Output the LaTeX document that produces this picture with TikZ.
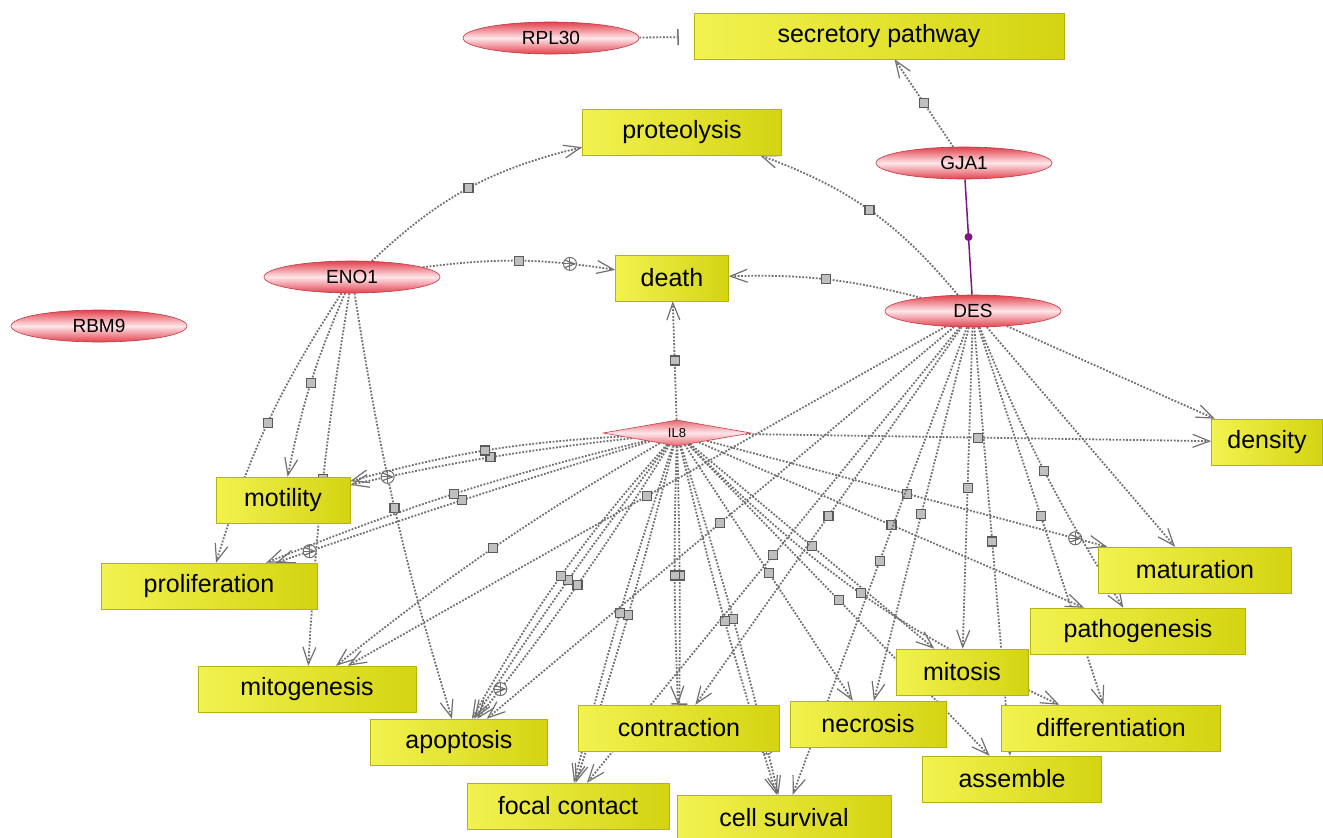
\documentclass[tikz,border=0pt]{standalone}
\usepackage{fontspec}
\setmainfont{Liberation Sans}
\usetikzlibrary{arrows.meta, shapes.geometric, backgrounds}
\definecolor{edgegray}{RGB}{112,112,112}
\definecolor{geneRed}{RGB}{226,66,78}
\definecolor{genePink}{RGB}{255,230,234}
\definecolor{boxLight}{RGB}{242,242,80}
\definecolor{boxDark}{RGB}{212,212,18}
\definecolor{bindPurple}{RGB}{128,20,128}

\tikzset{
  gene/.style={ellipse, draw=geneRed!85!black, line width=0.6pt,
    top color=geneRed, bottom color=geneRed, middle color=genePink,
    minimum width=176pt, minimum height=32pt, inner sep=0pt,
    font=\fontsize{19}{21}\selectfont},
  hub/.style={diamond, aspect=5.7, draw=geneRed!90!black, line width=0.6pt,
    top color=geneRed!80, bottom color=geneRed!80, middle color=genePink,
    minimum width=148pt, minimum height=26pt, inner sep=0pt,
    font=\fontsize{13}{15}\selectfont},
  process/.style={rectangle, draw=boxDark!85!black, line width=0.5pt,
    left color=boxLight, right color=boxDark, minimum height=46pt,
    inner sep=0pt, font=\fontsize{25}{28}\selectfont},
  rel/.style={draw=edgegray, line width=1.8pt, dash pattern=on 1.8pt off 1.6pt,
    -{Straight Barb[length=17pt,width=13pt,line width=1.2pt]}},
  inh/.style={rel, -{Bar[width=16pt,line width=1.5pt]}},
  sq/.style={rectangle, solid, draw=edgegray!80!black, fill=edgegray!45,
    line width=1.2pt, minimum size=9pt, inner sep=0pt},
  plusmk/.style={circle, solid, draw=edgegray, fill=white, line width=1pt,
    minimum size=13pt, inner sep=0pt,
    path picture={\draw[edgegray, line width=1pt]
      (path picture bounding box.north) -- (path picture bounding box.south)
      (path picture bounding box.west) -- (path picture bounding box.east);}},
  bind/.style={draw=bindPurple, line width=1.5pt},
  binddot/.style={circle, fill=bindPurple, minimum size=8pt, inner sep=0pt},
}

\begin{document}
\begin{tikzpicture}[x=1pt, y=-1pt]
  \useasboundingbox (0,0) rectangle (1323,838);
  \begin{scope}[on background layer]
    \fill[white] (0,0) rectangle (1323,838);
  \end{scope}

  % genes
  \node[gene] (RPL30) at (551,38) {RPL30};
  \node[gene] (GJA1) at (964,163) {GJA1};
  \node[gene] (ENO1) at (352,277) {ENO1};
  \node[gene] (DES) at (973,311) {DES};
  \node[gene] (RBM9) at (99,326) {RBM9};
  \node[hub] (IL8) at (677,433) {IL8};

  % cell processes
  \node[process, minimum width=370pt] (secretory) at (879,36) {secretory pathway};
  \node[process, minimum width=199pt] (proteolysis) at (682,132) {proteolysis};
  \node[process, minimum width=113pt] (death) at (672,278) {death};
  \node[process, minimum width=111pt] (density) at (1267,442) {density};
  \node[process, minimum width=134pt] (motility) at (283,500) {motility};
  \node[process, minimum width=216pt] (proliferation) at (209,586) {proliferation};
  \node[process, minimum width=193pt] (maturation) at (1195,570) {maturation};
  \node[process, minimum width=215pt] (pathogenesis) at (1138,631) {pathogenesis};
  \node[process, minimum width=218pt] (mitogenesis) at (307,689) {mitogenesis};
  \node[process, minimum width=132pt] (mitosis) at (962,672) {mitosis};
  \node[process, minimum width=177pt] (apoptosis) at (459,742) {apoptosis};
  \node[process, minimum width=201pt] (contraction) at (679,728) {contraction};
  \node[process, minimum width=156pt] (necrosis) at (868,724) {necrosis};
  \node[process, minimum width=219pt] (differentiation) at (1111,728) {differentiation};
  \node[process, minimum width=179pt] (assemble) at (1012,779) {assemble};
  \node[process, minimum width=202pt] (focal) at (568,806) {focal contact};
  \node[process, minimum width=214pt] (survival) at (784,818) {cell survival};

  \begin{scope}[on background layer]
    % top part
    \draw[inh, shorten >=15pt] (RPL30) -- (secretory);
    \draw[rel] (GJA1) -- node[sq]{} (secretory);
    \draw[bind] (GJA1) -- node[binddot]{} (DES);
    \draw[rel] (ENO1) to[bend left=15] node[sq]{} (proteolysis);
    \draw[rel] (DES) to[bend right=15] node[sq]{} (proteolysis);
    \draw[rel] (ENO1) to[bend left=8] node[sq]{} node[plusmk, pos=0.78]{} (death);
    \draw[rel] (DES) to[bend right=8] node[sq]{} (death);
    \draw[rel] (IL8) -- node[sq]{} (death);

    % ENO1 targets
    \draw[rel] (ENO1) to[bend right=8] node[sq]{} (proliferation);
    \draw[rel] (ENO1) to[bend right=6] node[sq]{} (motility);
    \draw[rel] (ENO1) to[bend right=3] node[sq]{} (mitogenesis);
    \draw[rel] (ENO1) to[bend right=4] node[sq]{} (apoptosis);

    % IL8 targets
    \draw[rel] (IL8) to[bend right=3] node[sq]{} node[plusmk, pos=0.88]{} (motility);
    \draw[rel] (IL8) to[bend right=6] node[sq]{} (motility);
    \draw[rel] (IL8) to[bend right=1] node[sq]{} node[plusmk, pos=0.92]{} (proliferation);
    \draw[rel] (IL8) to[bend right=4] node[sq]{} (proliferation);
    \draw[rel] (IL8) to[bend right=4] node[sq]{} (mitogenesis);
    \draw[rel] (IL8) to[bend left=3] node[sq]{} node[plusmk, pos=0.9]{} (apoptosis);
    \draw[rel] (IL8) to[bend right=2] node[sq]{} (apoptosis);
    \draw[rel] (IL8) to[bend right=6] node[sq]{} (apoptosis);
    \draw[rel] (IL8) to[bend left=2] node[sq]{} (focal);
    \draw[rel] (IL8) to[bend right=2] node[sq]{} (focal);
    \draw[inh] (IL8) to[bend left=1] node[sq]{} (contraction);
    \draw[rel] (IL8) to[bend right=2] node[sq]{} (contraction);
    \draw[rel] (IL8) to[bend left=2] node[sq]{} node[plusmk, pos=0.88]{} (survival);
    \draw[rel] (IL8) to[bend right=2] node[sq]{} (survival);
    \draw[rel] (IL8) -- node[sq]{} (necrosis);
    \draw[rel] (IL8) -- node[sq]{} (mitosis);
    \draw[rel] (IL8) -- node[sq]{} (assemble);
    \draw[rel] (IL8) to[bend right=10] node[sq]{} node[plusmk, pos=0.9]{} (differentiation);
    \draw[rel] (IL8) -- node[sq]{} (pathogenesis);
    \draw[rel] (IL8) -- node[sq]{} node[plusmk, pos=0.92]{} (maturation);
    \draw[rel] (IL8) -- node[sq]{} (density);

    % DES targets
    \draw[rel] (DES) -- (density);
    \draw[rel] (DES) -- (maturation);
    \draw[rel] (DES) to[bend right=5] node[sq]{} (pathogenesis);
    \draw[rel] (DES) -- node[sq]{} (differentiation);
    \draw[rel] (DES) -- node[sq]{} (assemble);
    \draw[rel] (DES) -- node[sq]{} (mitosis);
    \draw[rel] (DES) -- node[sq]{} (necrosis);
    \draw[rel] (DES) -- node[sq]{} (survival);
    \draw[rel] (DES) -- node[sq]{} (contraction);
    \draw[rel] (DES) -- node[sq]{} (focal);
    \draw[rel] (DES) -- node[sq]{} (apoptosis);
    \draw[rel] (DES) -- node[sq]{} (mitogenesis);
  \end{scope}
\end{tikzpicture}
\end{document}
